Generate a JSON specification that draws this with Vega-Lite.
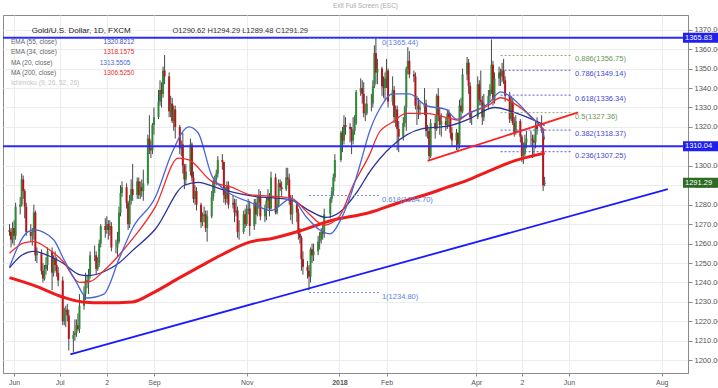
{
"$schema": "https://vega.github.io/schema/vega-lite/v6.json",
"width": 685, "height": 358,
"autosize": {"type": "none"},
"padding": {"left": 3, "top": 15, "right": 30, "bottom": 15},
"background": "white",
"title": {"text": "Exit Full Screen (ESC)", "fontSize": 6.5, "color": "#aaaaaa", "fontWeight": "normal", "anchor": "middle", "dx": 20, "offset": 0, "baseline": "bottom", "font": "Liberation Sans"},
"config": {"view": {"stroke": "#8a8a8a", "strokeWidth": 1}, "font": "Liberation Sans",
 "axis": {"zindex": 0, "grid": true, "gridColor": "#ececec", "domainColor": "#8a8a8a", "tickColor": "#8a8a8a", "labelColor": "#555555", "labelFont": "Liberation Sans", "labelPadding": 2, "labelOverlap": false},
 "axisX": {"tickSize": 3, "labelFontSize": 7, "labelFlush": false},
 "axisY": {"tickSize": 4, "labelFontSize": 7.5}},
"datasets": {
"ohlc": [
{"d":"2017-05-29","o":1267,"h":1270,"l":1264,"c":1266},
{"d":"2017-05-30","o":1266,"h":1268,"l":1258,"c":1262},
{"d":"2017-05-31","o":1262,"h":1271,"l":1260,"c":1268},
{"d":"2017-06-01","o":1268,"h":1272,"l":1259,"c":1264},
{"d":"2017-06-02","o":1264,"h":1281,"l":1262,"c":1279},
{"d":"2017-06-05","o":1279,"h":1284,"l":1275,"c":1280},
{"d":"2017-06-06","o":1280,"h":1296,"l":1279,"c":1293},
{"d":"2017-06-07","o":1293,"h":1295,"l":1283,"c":1287},
{"d":"2017-06-08","o":1287,"h":1288,"l":1273,"c":1279},
{"d":"2017-06-09","o":1279,"h":1281,"l":1264,"c":1266},
{"d":"2017-06-12","o":1266,"h":1270,"l":1261,"c":1264},
{"d":"2017-06-13","o":1264,"h":1268,"l":1259,"c":1266},
{"d":"2017-06-14","o":1266,"h":1280,"l":1262,"c":1276},
{"d":"2017-06-15","o":1276,"h":1277,"l":1251,"c":1254},
{"d":"2017-06-16","o":1254,"h":1258,"l":1250,"c":1255},
{"d":"2017-06-19","o":1255,"h":1257,"l":1244,"c":1246},
{"d":"2017-06-20","o":1246,"h":1250,"l":1240,"c":1242},
{"d":"2017-06-21","o":1242,"h":1249,"l":1241,"c":1247},
{"d":"2017-06-22","o":1247,"h":1253,"l":1244,"c":1249},
{"d":"2017-06-23","o":1249,"h":1258,"l":1246,"c":1256},
{"d":"2017-06-26","o":1256,"h":1258,"l":1236,"c":1245},
{"d":"2017-06-27","o":1245,"h":1254,"l":1243,"c":1252},
{"d":"2017-06-28","o":1252,"h":1256,"l":1246,"c":1249},
{"d":"2017-06-29","o":1249,"h":1253,"l":1243,"c":1245},
{"d":"2017-06-30","o":1245,"h":1248,"l":1238,"c":1241},
{"d":"2017-07-03","o":1241,"h":1243,"l":1218,"c":1220},
{"d":"2017-07-04","o":1220,"h":1227,"l":1218,"c":1225},
{"d":"2017-07-05","o":1225,"h":1228,"l":1217,"c":1226},
{"d":"2017-07-06","o":1226,"h":1229,"l":1220,"c":1223},
{"d":"2017-07-07","o":1223,"h":1226,"l":1205,"c":1211},
{"d":"2017-07-10","o":1211,"h":1215,"l":1204,"c":1213},
{"d":"2017-07-11","o":1213,"h":1221,"l":1210,"c":1214},
{"d":"2017-07-12","o":1214,"h":1221,"l":1212,"c":1218},
{"d":"2017-07-13","o":1218,"h":1224,"l":1215,"c":1216},
{"d":"2017-07-14","o":1216,"h":1234,"l":1214,"c":1228},
{"d":"2017-07-17","o":1228,"h":1238,"l":1226,"c":1234},
{"d":"2017-07-18","o":1234,"h":1245,"l":1231,"c":1241},
{"d":"2017-07-19","o":1241,"h":1244,"l":1237,"c":1240},
{"d":"2017-07-20","o":1240,"h":1247,"l":1234,"c":1244},
{"d":"2017-07-21","o":1244,"h":1256,"l":1242,"c":1254},
{"d":"2017-07-24","o":1254,"h":1259,"l":1251,"c":1254},
{"d":"2017-07-25","o":1254,"h":1256,"l":1244,"c":1247},
{"d":"2017-07-26","o":1247,"h":1253,"l":1246,"c":1250},
{"d":"2017-07-27","o":1250,"h":1262,"l":1248,"c":1260},
{"d":"2017-07-28","o":1260,"h":1270,"l":1258,"c":1269},
{"d":"2017-07-31","o":1269,"h":1273,"l":1263,"c":1267},
{"d":"2017-08-01","o":1267,"h":1274,"l":1265,"c":1270},
{"d":"2017-08-02","o":1270,"h":1272,"l":1262,"c":1267},
{"d":"2017-08-03","o":1267,"h":1272,"l":1264,"c":1269},
{"d":"2017-08-04","o":1269,"h":1271,"l":1256,"c":1258},
{"d":"2017-08-07","o":1258,"h":1262,"l":1255,"c":1258},
{"d":"2017-08-08","o":1258,"h":1266,"l":1253,"c":1261},
{"d":"2017-08-09","o":1261,"h":1279,"l":1260,"c":1276},
{"d":"2017-08-10","o":1276,"h":1290,"l":1274,"c":1286},
{"d":"2017-08-11","o":1286,"h":1292,"l":1284,"c":1289},
{"d":"2017-08-14","o":1289,"h":1291,"l":1278,"c":1281},
{"d":"2017-08-15","o":1281,"h":1282,"l":1267,"c":1270},
{"d":"2017-08-16","o":1270,"h":1285,"l":1268,"c":1282},
{"d":"2017-08-17","o":1282,"h":1293,"l":1280,"c":1288},
{"d":"2017-08-18","o":1288,"h":1301,"l":1282,"c":1285},
{"d":"2017-08-21","o":1285,"h":1294,"l":1283,"c":1292},
{"d":"2017-08-22","o":1292,"h":1294,"l":1283,"c":1285},
{"d":"2017-08-23","o":1285,"h":1292,"l":1283,"c":1289},
{"d":"2017-08-24","o":1289,"h":1293,"l":1284,"c":1287},
{"d":"2017-08-25","o":1287,"h":1298,"l":1282,"c":1291},
{"d":"2017-08-28","o":1291,"h":1316,"l":1290,"c":1314},
{"d":"2017-08-29","o":1314,"h":1326,"l":1306,"c":1309},
{"d":"2017-08-30","o":1309,"h":1313,"l":1304,"c":1308},
{"d":"2017-08-31","o":1308,"h":1322,"l":1306,"c":1321},
{"d":"2017-09-01","o":1321,"h":1330,"l":1316,"c":1325},
{"d":"2017-09-04","o":1325,"h":1339,"l":1324,"c":1333},
{"d":"2017-09-05","o":1333,"h":1344,"l":1331,"c":1339},
{"d":"2017-09-06","o":1339,"h":1343,"l":1330,"c":1337},
{"d":"2017-09-07","o":1337,"h":1351,"l":1335,"c":1349},
{"d":"2017-09-08","o":1349,"h":1357,"l":1342,"c":1346},
{"d":"2017-09-11","o":1346,"h":1348,"l":1325,"c":1328},
{"d":"2017-09-12","o":1328,"h":1336,"l":1325,"c":1332},
{"d":"2017-09-13","o":1332,"h":1335,"l":1322,"c":1323},
{"d":"2017-09-14","o":1323,"h":1331,"l":1318,"c":1329},
{"d":"2017-09-15","o":1329,"h":1331,"l":1314,"c":1320},
{"d":"2017-09-18","o":1320,"h":1321,"l":1306,"c":1309},
{"d":"2017-09-19","o":1309,"h":1313,"l":1305,"c":1311},
{"d":"2017-09-20","o":1311,"h":1317,"l":1296,"c":1300},
{"d":"2017-09-21","o":1300,"h":1301,"l":1288,"c":1293},
{"d":"2017-09-22","o":1293,"h":1301,"l":1290,"c":1297},
{"d":"2017-09-25","o":1297,"h":1314,"l":1295,"c":1311},
{"d":"2017-09-26","o":1311,"h":1312,"l":1292,"c":1294},
{"d":"2017-09-27","o":1294,"h":1297,"l":1281,"c":1283},
{"d":"2017-09-28","o":1283,"h":1290,"l":1280,"c":1287},
{"d":"2017-09-29","o":1287,"h":1289,"l":1277,"c":1280},
{"d":"2017-10-02","o":1280,"h":1281,"l":1268,"c":1271},
{"d":"2017-10-03","o":1271,"h":1276,"l":1269,"c":1274},
{"d":"2017-10-04","o":1274,"h":1279,"l":1271,"c":1275},
{"d":"2017-10-05","o":1275,"h":1277,"l":1266,"c":1268},
{"d":"2017-10-06","o":1268,"h":1277,"l":1261,"c":1274},
{"d":"2017-10-09","o":1274,"h":1287,"l":1273,"c":1284},
{"d":"2017-10-10","o":1284,"h":1293,"l":1282,"c":1292},
{"d":"2017-10-11","o":1292,"h":1295,"l":1286,"c":1293},
{"d":"2017-10-12","o":1293,"h":1298,"l":1290,"c":1296},
{"d":"2017-10-13","o":1296,"h":1305,"l":1294,"c":1303},
{"d":"2017-10-16","o":1303,"h":1306,"l":1298,"c":1302},
{"d":"2017-10-17","o":1302,"h":1302,"l":1281,"c":1285},
{"d":"2017-10-18","o":1285,"h":1289,"l":1280,"c":1283},
{"d":"2017-10-19","o":1283,"h":1292,"l":1281,"c":1290},
{"d":"2017-10-20","o":1290,"h":1292,"l":1278,"c":1280},
{"d":"2017-10-23","o":1280,"h":1285,"l":1278,"c":1281},
{"d":"2017-10-24","o":1281,"h":1283,"l":1271,"c":1276},
{"d":"2017-10-25","o":1276,"h":1283,"l":1274,"c":1277},
{"d":"2017-10-26","o":1277,"h":1279,"l":1263,"c":1266},
{"d":"2017-10-27","o":1266,"h":1272,"l":1262,"c":1266},
{"d":"2017-10-30","o":1266,"h":1277,"l":1265,"c":1275},
{"d":"2017-10-31","o":1275,"h":1278,"l":1268,"c":1270},
{"d":"2017-11-01","o":1270,"h":1280,"l":1269,"c":1277},
{"d":"2017-11-02","o":1277,"h":1283,"l":1275,"c":1278},
{"d":"2017-11-03","o":1278,"h":1282,"l":1264,"c":1269},
{"d":"2017-11-06","o":1269,"h":1283,"l":1267,"c":1281},
{"d":"2017-11-07","o":1281,"h":1283,"l":1270,"c":1275},
{"d":"2017-11-08","o":1275,"h":1284,"l":1274,"c":1281},
{"d":"2017-11-09","o":1281,"h":1288,"l":1278,"c":1284},
{"d":"2017-11-10","o":1284,"h":1287,"l":1272,"c":1274},
{"d":"2017-11-13","o":1274,"h":1280,"l":1271,"c":1278},
{"d":"2017-11-14","o":1278,"h":1284,"l":1272,"c":1282},
{"d":"2017-11-15","o":1282,"h":1288,"l":1278,"c":1284},
{"d":"2017-11-16","o":1284,"h":1286,"l":1274,"c":1278},
{"d":"2017-11-17","o":1278,"h":1297,"l":1277,"c":1294},
{"d":"2017-11-20","o":1294,"h":1296,"l":1275,"c":1276},
{"d":"2017-11-21","o":1276,"h":1283,"l":1275,"c":1280},
{"d":"2017-11-22","o":1280,"h":1293,"l":1279,"c":1291},
{"d":"2017-11-23","o":1291,"h":1293,"l":1287,"c":1289},
{"d":"2017-11-24","o":1289,"h":1292,"l":1284,"c":1288},
{"d":"2017-11-27","o":1288,"h":1299,"l":1287,"c":1294},
{"d":"2017-11-28","o":1294,"h":1299,"l":1290,"c":1293},
{"d":"2017-11-29","o":1293,"h":1296,"l":1280,"c":1282},
{"d":"2017-11-30","o":1282,"h":1285,"l":1272,"c":1275},
{"d":"2017-12-01","o":1275,"h":1285,"l":1270,"c":1280},
{"d":"2017-12-04","o":1280,"h":1281,"l":1271,"c":1276},
{"d":"2017-12-05","o":1276,"h":1278,"l":1262,"c":1265},
{"d":"2017-12-06","o":1265,"h":1268,"l":1260,"c":1263},
{"d":"2017-12-07","o":1263,"h":1264,"l":1246,"c":1252},
{"d":"2017-12-08","o":1252,"h":1256,"l":1244,"c":1248},
{"d":"2017-12-11","o":1248,"h":1251,"l":1242,"c":1246},
{"d":"2017-12-12","o":1246,"h":1249,"l":1236,"c":1243},
{"d":"2017-12-13","o":1243,"h":1258,"l":1240,"c":1257},
{"d":"2017-12-14","o":1257,"h":1260,"l":1250,"c":1254},
{"d":"2017-12-15","o":1254,"h":1260,"l":1251,"c":1256},
{"d":"2017-12-18","o":1256,"h":1264,"l":1254,"c":1261},
{"d":"2017-12-19","o":1261,"h":1266,"l":1257,"c":1262},
{"d":"2017-12-20","o":1262,"h":1268,"l":1260,"c":1266},
{"d":"2017-12-21","o":1266,"h":1270,"l":1262,"c":1265},
{"d":"2017-12-22","o":1265,"h":1278,"l":1263,"c":1275},
{"d":"2017-12-26","o":1275,"h":1284,"l":1273,"c":1283},
{"d":"2017-12-27","o":1283,"h":1289,"l":1281,"c":1287},
{"d":"2017-12-28","o":1287,"h":1296,"l":1285,"c":1294},
{"d":"2017-12-29","o":1294,"h":1306,"l":1292,"c":1303},
{"d":"2018-01-02","o":1303,"h":1318,"l":1302,"c":1317},
{"d":"2018-01-03","o":1317,"h":1320,"l":1307,"c":1313},
{"d":"2018-01-04","o":1313,"h":1326,"l":1311,"c":1321},
{"d":"2018-01-05","o":1321,"h":1325,"l":1316,"c":1320},
{"d":"2018-01-08","o":1320,"h":1322,"l":1312,"c":1319},
{"d":"2018-01-09","o":1319,"h":1320,"l":1306,"c":1313},
{"d":"2018-01-10","o":1313,"h":1325,"l":1311,"c":1318},
{"d":"2018-01-11","o":1318,"h":1326,"l":1316,"c":1322},
{"d":"2018-01-12","o":1322,"h":1339,"l":1321,"c":1338},
{"d":"2018-01-15","o":1338,"h":1345,"l":1336,"c":1340},
{"d":"2018-01-16","o":1340,"h":1344,"l":1332,"c":1337},
{"d":"2018-01-17","o":1337,"h":1343,"l":1325,"c":1327},
{"d":"2018-01-18","o":1327,"h":1332,"l":1323,"c":1327},
{"d":"2018-01-19","o":1327,"h":1336,"l":1326,"c":1332},
{"d":"2018-01-22","o":1332,"h":1337,"l":1328,"c":1332},
{"d":"2018-01-23","o":1332,"h":1344,"l":1330,"c":1341},
{"d":"2018-01-24","o":1341,"h":1362,"l":1340,"c":1358},
{"d":"2018-01-25","o":1358,"h":1366,"l":1342,"c":1348},
{"d":"2018-01-26","o":1348,"h":1355,"l":1342,"c":1350},
{"d":"2018-01-29","o":1350,"h":1351,"l":1336,"c":1341},
{"d":"2018-01-30","o":1341,"h":1346,"l":1335,"c":1340},
{"d":"2018-01-31","o":1340,"h":1348,"l":1334,"c":1345},
{"d":"2018-02-01","o":1345,"h":1355,"l":1340,"c":1349},
{"d":"2018-02-02","o":1349,"h":1350,"l":1330,"c":1333},
{"d":"2018-02-05","o":1333,"h":1346,"l":1331,"c":1339},
{"d":"2018-02-06","o":1339,"h":1341,"l":1322,"c":1325},
{"d":"2018-02-07","o":1325,"h":1331,"l":1320,"c":1329},
{"d":"2018-02-08","o":1329,"h":1331,"l":1308,"c":1319},
{"d":"2018-02-09","o":1319,"h":1323,"l":1307,"c":1315},
{"d":"2018-02-12","o":1315,"h":1325,"l":1313,"c":1322},
{"d":"2018-02-13","o":1322,"h":1331,"l":1320,"c":1330},
{"d":"2018-02-14","o":1330,"h":1351,"l":1318,"c":1350},
{"d":"2018-02-15","o":1350,"h":1361,"l":1347,"c":1354},
{"d":"2018-02-16","o":1354,"h":1359,"l":1345,"c":1347},
{"d":"2018-02-19","o":1347,"h":1349,"l":1343,"c":1346},
{"d":"2018-02-20","o":1346,"h":1348,"l":1329,"c":1331},
{"d":"2018-02-21","o":1331,"h":1336,"l":1321,"c":1331},
{"d":"2018-02-22","o":1331,"h":1335,"l":1324,"c":1329},
{"d":"2018-02-23","o":1329,"h":1333,"l":1326,"c":1330},
{"d":"2018-02-26","o":1330,"h":1340,"l":1326,"c":1332},
{"d":"2018-02-27","o":1332,"h":1334,"l":1315,"c":1318},
{"d":"2018-02-28","o":1318,"h":1321,"l":1314,"c":1318},
{"d":"2018-03-01","o":1318,"h":1320,"l":1303,"c":1305},
{"d":"2018-03-02","o":1305,"h":1324,"l":1304,"c":1322},
{"d":"2018-03-05","o":1322,"h":1326,"l":1314,"c":1319},
{"d":"2018-03-06","o":1319,"h":1337,"l":1318,"c":1336},
{"d":"2018-03-07","o":1336,"h":1340,"l":1323,"c":1326},
{"d":"2018-03-08","o":1326,"h":1330,"l":1316,"c":1321},
{"d":"2018-03-09","o":1321,"h":1327,"l":1315,"c":1323},
{"d":"2018-03-12","o":1323,"h":1325,"l":1318,"c":1321},
{"d":"2018-03-13","o":1321,"h":1329,"l":1319,"c":1327},
{"d":"2018-03-14","o":1327,"h":1329,"l":1320,"c":1325},
{"d":"2018-03-15","o":1325,"h":1327,"l":1314,"c":1317},
{"d":"2018-03-16","o":1317,"h":1320,"l":1310,"c":1313},
{"d":"2018-03-19","o":1313,"h":1319,"l":1308,"c":1317},
{"d":"2018-03-20","o":1317,"h":1317,"l":1307,"c":1311},
{"d":"2018-03-21","o":1311,"h":1334,"l":1309,"c":1331},
{"d":"2018-03-22","o":1331,"h":1335,"l":1324,"c":1328},
{"d":"2018-03-23","o":1328,"h":1350,"l":1327,"c":1347},
{"d":"2018-03-26","o":1347,"h":1356,"l":1344,"c":1353},
{"d":"2018-03-27","o":1353,"h":1355,"l":1337,"c":1341},
{"d":"2018-03-28","o":1341,"h":1343,"l":1322,"c":1325},
{"d":"2018-03-29","o":1325,"h":1328,"l":1321,"c":1325},
{"d":"2018-04-02","o":1325,"h":1346,"l":1324,"c":1342},
{"d":"2018-04-03","o":1342,"h":1344,"l":1331,"c":1334},
{"d":"2018-04-04","o":1334,"h":1349,"l":1331,"c":1333},
{"d":"2018-04-05","o":1333,"h":1336,"l":1321,"c":1325},
{"d":"2018-04-06","o":1325,"h":1337,"l":1323,"c":1332},
{"d":"2018-04-09","o":1332,"h":1339,"l":1329,"c":1336},
{"d":"2018-04-10","o":1336,"h":1342,"l":1333,"c":1339},
{"d":"2018-04-11","o":1339,"h":1365,"l":1337,"c":1352},
{"d":"2018-04-12","o":1352,"h":1354,"l":1331,"c":1334},
{"d":"2018-04-13","o":1334,"h":1348,"l":1332,"c":1345},
{"d":"2018-04-16","o":1345,"h":1351,"l":1341,"c":1348},
{"d":"2018-04-17","o":1348,"h":1350,"l":1341,"c":1346},
{"d":"2018-04-18","o":1346,"h":1353,"l":1343,"c":1349},
{"d":"2018-04-19","o":1349,"h":1355,"l":1342,"c":1344},
{"d":"2018-04-20","o":1344,"h":1346,"l":1333,"c":1336},
{"d":"2018-04-23","o":1336,"h":1338,"l":1322,"c":1324},
{"d":"2018-04-24","o":1324,"h":1336,"l":1323,"c":1333},
{"d":"2018-04-25","o":1333,"h":1335,"l":1321,"c":1322},
{"d":"2018-04-26","o":1322,"h":1325,"l":1315,"c":1317},
{"d":"2018-04-27","o":1317,"h":1326,"l":1316,"c":1323},
{"d":"2018-04-30","o":1323,"h":1324,"l":1312,"c":1315},
{"d":"2018-05-01","o":1315,"h":1316,"l":1302,"c":1305},
{"d":"2018-05-02","o":1305,"h":1312,"l":1301,"c":1306},
{"d":"2018-05-03","o":1306,"h":1316,"l":1305,"c":1312},
{"d":"2018-05-04","o":1312,"h":1318,"l":1309,"c":1314},
{"d":"2018-05-07","o":1314,"h":1318,"l":1310,"c":1314},
{"d":"2018-05-08","o":1314,"h":1316,"l":1304,"c":1313},
{"d":"2018-05-09","o":1313,"h":1316,"l":1305,"c":1312},
{"d":"2018-05-10","o":1312,"h":1323,"l":1309,"c":1321},
{"d":"2018-05-11","o":1321,"h":1325,"l":1316,"c":1319},
{"d":"2018-05-14","o":1319,"h":1326,"l":1317,"c":1318},
{"d":"2018-05-15","o":1318,"h":1319,"l":1287,"c":1290},
{"d":"2018-05-16","o":1290.62,"h":1294.29,"l":1289.48,"c":1291.29}
],
"ma": [
{"s":"MA200","d":"2017-05-29","v":1242.5},{"s":"MA200","d":"2017-06-14","v":1238.5},{"s":"MA200","d":"2017-07-03","v":1232.5},{"s":"MA200","d":"2017-07-16","v":1230},{"s":"MA200","d":"2017-07-30","v":1229.5},{"s":"MA200","d":"2017-08-18","v":1230},{"s":"MA200","d":"2017-08-31","v":1234.5},{"s":"MA200","d":"2017-09-18","v":1242.5},{"s":"MA200","d":"2017-10-02","v":1248.5},{"s":"MA200","d":"2017-10-15","v":1254},{"s":"MA200","d":"2017-11-04","v":1261},{"s":"MA200","d":"2017-11-17","v":1262.5},{"s":"MA200","d":"2017-12-06","v":1266.5},{"s":"MA200","d":"2017-12-25","v":1271.5},{"s":"MA200","d":"2018-01-21","v":1276},{"s":"MA200","d":"2018-02-09","v":1281},{"s":"MA200","d":"2018-02-28","v":1285.5},{"s":"MA200","d":"2018-03-13","v":1289},{"s":"MA200","d":"2018-03-26","v":1292.5},{"s":"MA200","d":"2018-04-10","v":1297.5},{"s":"MA200","d":"2018-04-26","v":1302.5},{"s":"MA200","d":"2018-05-16","v":1306.53},
{"s":"EMA55","d":"2017-05-29","v":1247.5},{"s":"EMA55","d":"2017-06-06","v":1254},{"s":"EMA55","d":"2017-06-14","v":1256},{"s":"EMA55","d":"2017-06-23","v":1254},{"s":"EMA55","d":"2017-07-03","v":1250},{"s":"EMA55","d":"2017-07-14","v":1244},{"s":"EMA55","d":"2017-07-19","v":1243.5},{"s":"EMA55","d":"2017-07-30","v":1245.5},{"s":"EMA55","d":"2017-08-09","v":1250},{"s":"EMA55","d":"2017-08-18","v":1256.5},{"s":"EMA55","d":"2017-09-02","v":1267.5},{"s":"EMA55","d":"2017-09-21","v":1290},{"s":"EMA55","d":"2017-09-30","v":1291.5},{"s":"EMA55","d":"2017-10-15","v":1288},{"s":"EMA55","d":"2017-11-04","v":1284.5},{"s":"EMA55","d":"2017-11-30","v":1282.5},{"s":"EMA55","d":"2017-12-11","v":1277.5},{"s":"EMA55","d":"2017-12-23","v":1273.5},{"s":"EMA55","d":"2018-01-01","v":1276},{"s":"EMA55","d":"2018-01-13","v":1287},{"s":"EMA55","d":"2018-01-21","v":1297},{"s":"EMA55","d":"2018-02-05","v":1310.5},{"s":"EMA55","d":"2018-02-24","v":1319},{"s":"EMA55","d":"2018-03-14","v":1320.5},{"s":"EMA55","d":"2018-03-27","v":1324},{"s":"EMA55","d":"2018-04-13","v":1330},{"s":"EMA55","d":"2018-04-26","v":1327.5},{"s":"EMA55","d":"2018-05-09","v":1323.5},{"s":"EMA55","d":"2018-05-16","v":1320.82},
{"s":"EMA34","d":"2017-05-29","v":1255},{"s":"EMA34","d":"2017-06-08","v":1260.5},{"s":"EMA34","d":"2017-06-14","v":1261},{"s":"EMA34","d":"2017-06-23","v":1257.5},{"s":"EMA34","d":"2017-07-03","v":1251},{"s":"EMA34","d":"2017-07-14","v":1240},{"s":"EMA34","d":"2017-07-21","v":1240.5},{"s":"EMA34","d":"2017-07-30","v":1246},{"s":"EMA34","d":"2017-08-09","v":1254},{"s":"EMA34","d":"2017-08-18","v":1262.5},{"s":"EMA34","d":"2017-09-02","v":1279},{"s":"EMA34","d":"2017-09-17","v":1304},{"s":"EMA34","d":"2017-09-24","v":1303},{"s":"EMA34","d":"2017-10-09","v":1292},{"s":"EMA34","d":"2017-10-22","v":1289},{"s":"EMA34","d":"2017-11-04","v":1285},{"s":"EMA34","d":"2017-11-15","v":1284.5},{"s":"EMA34","d":"2017-11-30","v":1283.5},{"s":"EMA34","d":"2017-12-11","v":1276},{"s":"EMA34","d":"2017-12-22","v":1269.5},{"s":"EMA34","d":"2018-01-01","v":1274},{"s":"EMA34","d":"2018-01-10","v":1290},{"s":"EMA34","d":"2018-01-21","v":1306},{"s":"EMA34","d":"2018-01-27","v":1317},{"s":"EMA34","d":"2018-02-05","v":1322.5},{"s":"EMA34","d":"2018-02-14","v":1327},{"s":"EMA34","d":"2018-02-27","v":1327},{"s":"EMA34","d":"2018-03-14","v":1324.5},{"s":"EMA34","d":"2018-03-20","v":1323.5},{"s":"EMA34","d":"2018-03-27","v":1327},{"s":"EMA34","d":"2018-04-09","v":1331},{"s":"EMA34","d":"2018-04-17","v":1335},{"s":"EMA34","d":"2018-04-26","v":1332},{"s":"EMA34","d":"2018-05-09","v":1324},{"s":"EMA34","d":"2018-05-16","v":1318.16},
{"s":"MA20","d":"2017-05-29","v":1248},{"s":"MA20","d":"2017-06-10","v":1266},{"s":"MA20","d":"2017-06-14","v":1267},{"s":"MA20","d":"2017-06-27","v":1262},{"s":"MA20","d":"2017-07-03","v":1253},{"s":"MA20","d":"2017-07-12","v":1240},{"s":"MA20","d":"2017-07-19","v":1232},{"s":"MA20","d":"2017-07-30","v":1234},{"s":"MA20","d":"2017-08-09","v":1252},{"s":"MA20","d":"2017-08-18","v":1268},{"s":"MA20","d":"2017-09-02","v":1284},{"s":"MA20","d":"2017-09-13","v":1307},{"s":"MA20","d":"2017-09-24","v":1320},{"s":"MA20","d":"2017-09-30","v":1317},{"s":"MA20","d":"2017-10-09","v":1295},{"s":"MA20","d":"2017-10-17","v":1288},{"s":"MA20","d":"2017-11-04","v":1281},{"s":"MA20","d":"2017-11-17","v":1277},{"s":"MA20","d":"2017-11-30","v":1283},{"s":"MA20","d":"2017-12-11","v":1273},{"s":"MA20","d":"2017-12-19","v":1267},{"s":"MA20","d":"2017-12-26","v":1265},{"s":"MA20","d":"2018-01-01","v":1271},{"s":"MA20","d":"2018-01-08","v":1284},{"s":"MA20","d":"2018-01-14","v":1299},{"s":"MA20","d":"2018-01-21","v":1318},{"s":"MA20","d":"2018-01-28","v":1330},{"s":"MA20","d":"2018-02-05","v":1337},{"s":"MA20","d":"2018-02-16","v":1337},{"s":"MA20","d":"2018-02-27","v":1331},{"s":"MA20","d":"2018-03-12","v":1329},{"s":"MA20","d":"2018-03-19","v":1324},{"s":"MA20","d":"2018-03-27","v":1327},{"s":"MA20","d":"2018-04-09","v":1332},{"s":"MA20","d":"2018-04-17","v":1338},{"s":"MA20","d":"2018-04-26","v":1334},{"s":"MA20","d":"2018-05-07","v":1325},{"s":"MA20","d":"2018-05-14","v":1319},{"s":"MA20","d":"2018-05-16","v":1313.55}
],
"trend": [
{"n":"support","d1":"2017-07-08","p1":1203,"d2":"2018-08-05","p2":1288},
{"n":"resistance","d1":"2018-02-28","p1":1302.5,"d2":"2018-06-07","p2":1327.5}
],
"hlines": [{"p":1365.83},{"p":1310.04}],
"fib": [
{"g":1,"r":"0","p":1365.44,"d1":"2017-12-12","d2":"2018-01-27","t":"0(1365.44)"},
{"g":1,"r":"0.618","p":1284.70,"d1":"2017-12-12","d2":"2018-01-27","t":"0.618(1284.70)"},
{"g":1,"r":"1","p":1234.80,"d1":"2017-12-12","d2":"2018-01-27","t":"1(1234.80)"},
{"g":2,"r":"0.886","p":1356.75,"d1":"2018-04-17","d2":"2018-06-03","t":"0.886(1356.75)"},
{"g":2,"r":"0.786","p":1349.14,"d1":"2018-04-17","d2":"2018-06-03","t":"0.786(1349.14)"},
{"g":2,"r":"0.618","p":1336.34,"d1":"2018-04-17","d2":"2018-06-03","t":"0.618(1336.34)"},
{"g":2,"r":"0.5","p":1327.36,"d1":"2018-04-17","d2":"2018-06-03","t":"0.5(1327.36)"},
{"g":2,"r":"0.382","p":1318.37,"d1":"2018-04-17","d2":"2018-06-03","t":"0.382(1318.37)"},
{"g":2,"r":"0.236","p":1307.25,"d1":"2018-04-17","d2":"2018-06-03","t":"0.236(1307.25)"}
],
"tags": [
{"p":1365.83,"t":"1365.83","k":"line"},
{"p":1310.04,"t":"1310.04","k":"line"},
{"p":1291.29,"t":"1291.29","k":"last"}
]
},
"layer": [
{"data":{"name":"ohlc"},"mark":{"type":"rule","color":"#474747","strokeWidth":1},
 "encoding":{
  "x":{"field":"d","type":"temporal","scale":{"type":"utc","domain":[{"year":2017,"month":5,"date":28,"utc":true},{"year":2018,"month":8,"date":15,"utc":true}]},
   "axis":{"title":null,
    "values":[{"year":2017,"month":6,"date":1,"utc":true},{"year":2017,"month":7,"date":1,"utc":true},{"year":2017,"month":8,"date":1,"utc":true},{"year":2017,"month":9,"date":1,"utc":true},{"year":2017,"month":11,"date":1,"utc":true},{"year":2018,"month":1,"date":1,"utc":true},{"year":2018,"month":2,"date":1,"utc":true},{"year":2018,"month":4,"date":1,"utc":true},{"year":2018,"month":5,"date":1,"utc":true},{"year":2018,"month":6,"date":1,"utc":true},{"year":2018,"month":8,"date":1,"utc":true}],
    "labelExpr":"utcmonth(datum.value)==0 ? '2018' : ((utcmonth(datum.value)==7 && utcyear(datum.value)==2017) || utcmonth(datum.value)==4) ? '2' : utcFormat(datum.value, '%b')",
    "labelFontWeight":{"condition":{"test":"utcmonth(datum.value)==0","value":"bold"},"value":"normal"}}},
  "y":{"field":"l","type":"quantitative","scale":{"domain":[1196,1375],"nice":false,"zero":false},
   "axis":{"orient":"right","title":null,"format":".2f","tickCount":18,
    "values":[1200,1210,1220,1230,1240,1250,1260,1270,1280,1290,1300,1310,1320,1330,1340,1350,1360,1370]}},
  "y2":{"field":"h"}}},
{"data":{"name":"ohlc"},"mark":{"type":"bar","size":2},
 "encoding":{
  "x":{"field":"d","type":"temporal"},
  "y":{"field":"o","type":"quantitative","axis":{"orient":"right"}},
  "y2":{"field":"c"},
  "color":{"condition":{"test":"datum.c >= datum.o","value":"#2e8b3a"},"value":"#b5161b"}}},
{"data":{"name":"ma"},"transform":[{"filter":"datum.s == 'MA200'"}],"mark":{"type":"line","interpolate":"monotone","color":"#f01a1a","strokeWidth":3},
 "encoding":{"x":{"field":"d","type":"temporal"},"y":{"field":"v","type":"quantitative","axis":{"orient":"right"}}}},
{"data":{"name":"ma"},"transform":[{"filter":"datum.s != 'MA200'"}],"mark":{"type":"line","interpolate":"monotone","strokeWidth":1.3},
 "encoding":{"x":{"field":"d","type":"temporal"},"y":{"field":"v","type":"quantitative","axis":{"orient":"right"}},
  "color":{"field":"s","type":"nominal","scale":{"domain":["EMA55","EMA34","MA20"],"range":["#2a3199","#f22a2a","#4766d8"]},"legend":null}}},
{"data":{"name":"hlines"},"mark":{"type":"rule","color":"#2b2bff","strokeWidth":2},
 "encoding":{"y":{"field":"p","type":"quantitative","axis":{"orient":"right"}}}},
{"data":{"name":"trend"},"mark":{"type":"rule","strokeWidth":1.8},
 "encoding":{"x":{"field":"d1","type":"temporal"},"x2":{"field":"d2"},"y":{"field":"p1","type":"quantitative","axis":{"orient":"right"}},"y2":{"field":"p2"},
  "color":{"field":"n","type":"nominal","scale":{"domain":["support","resistance"],"range":["#1a1aff","#ff2020"]},"legend":null}}},
{"data":{"name":"fib"},"mark":{"type":"rule","strokeWidth":1,"strokeDash":[2,2]},
 "encoding":{"x":{"field":"d1","type":"temporal"},"x2":{"field":"d2"},"y":{"field":"p","type":"quantitative","axis":{"orient":"right"}},
  "color":{"condition":[{"test":"datum.g == 1","value":"#6f8fe8"},{"test":"datum.r == '0.886' || datum.r == '0.5'","value":"#8aab7e"}],"value":"#5a5ae0"}}},
{"data":{"name":"fib"},"mark":{"type":"text","align":"left","baseline":"middle","dx":3,"dy":4,"fontSize":7.5,"font":"Liberation Sans"},
 "encoding":{"x":{"field":"d2","type":"temporal"},"y":{"field":"p","type":"quantitative","axis":{"orient":"right"}},"text":{"field":"t"},
  "color":{"condition":[{"test":"datum.g == 1","value":"#5a82e0"},{"test":"datum.r == '0.886' || datum.r == '0.5'","value":"#6a9558"}],"value":"#4646d8"}}},
{"data":{"name":"tags"},"mark":{"type":"bar","size":10},
 "encoding":{"x":{"datum":{"year":2018,"month":8,"date":15,"utc":true},"type":"temporal"},"x2":{"datum":{"year":2018,"month":9,"date":12,"utc":true}},"y":{"field":"p","type":"quantitative","axis":{"orient":"right"}},
  "color":{"condition":{"test":"datum.k == 'last'","value":"#2f6b25"},"value":"#1f1ff0"}}},
{"data":{"name":"tags"},"mark":{"type":"text","align":"left","baseline":"middle","dx":2,"fontSize":7.5,"color":"white","font":"Liberation Sans"},
 "encoding":{"x":{"datum":{"year":2018,"month":8,"date":15,"utc":true},"type":"temporal"},"y":{"field":"p","type":"quantitative","axis":{"orient":"right"}},"text":{"field":"t"}}},
{"data":{"values":[{"t":"Gold/U.S. Dollar, 1D, FXCM"}]},"mark":{"type":"text","align":"left","baseline":"middle","fontSize":8,"color":"#222222"},
 "encoding":{"x":{"datum":{"year":2017,"month":6,"date":12,"hours":13,"utc":true},"type":"temporal"},"y":{"datum":1369.5,"type":"quantitative","axis":{"orient":"right"}},"text":{"field":"t"}}},
{"data":{"values":[{"t":"O1290.62  H1294.29  L1289.48  C1291.29"}]},"mark":{"type":"text","align":"left","baseline":"middle","fontSize":7.5,"color":"#333333"},
 "encoding":{"x":{"datum":{"year":2017,"month":9,"date":13,"hours":5,"utc":true},"type":"temporal"},"y":{"datum":1369.5,"type":"quantitative","axis":{"orient":"right"}},"text":{"field":"t"}}},
{"data":{"values":[{"t":"EMA (55, close)"}]},"mark":{"type":"text","align":"left","baseline":"middle","fontSize":6.5,"color":"#666666"},
 "encoding":{"x":{"datum":{"year":2017,"month":5,"date":29,"hours":22,"utc":true},"type":"temporal"},"y":{"datum":1363.5,"type":"quantitative","axis":{"orient":"right"}},"text":{"field":"t"}}},
{"data":{"values":[{"t":"1320.8212"}]},"mark":{"type":"text","align":"left","baseline":"middle","fontSize":6.5,"color":"#3d4dbb"},
 "encoding":{"x":{"datum":{"year":2017,"month":7,"date":29,"hours":21,"utc":true},"type":"temporal"},"y":{"datum":1363.5,"type":"quantitative","axis":{"orient":"right"}},"text":{"field":"t"}}},
{"data":{"values":[{"t":"EMA (34, close)"}]},"mark":{"type":"text","align":"left","baseline":"middle","fontSize":6.5,"color":"#666666"},
 "encoding":{"x":{"datum":{"year":2017,"month":5,"date":29,"hours":22,"utc":true},"type":"temporal"},"y":{"datum":1358.5,"type":"quantitative","axis":{"orient":"right"}},"text":{"field":"t"}}},
{"data":{"values":[{"t":"1318.1575"}]},"mark":{"type":"text","align":"left","baseline":"middle","fontSize":6.5,"color":"#ee2a2a"},
 "encoding":{"x":{"datum":{"year":2017,"month":7,"date":29,"hours":21,"utc":true},"type":"temporal"},"y":{"datum":1358.5,"type":"quantitative","axis":{"orient":"right"}},"text":{"field":"t"}}},
{"data":{"values":[{"t":"MA (20, close)"}]},"mark":{"type":"text","align":"left","baseline":"middle","fontSize":6.5,"color":"#666666"},
 "encoding":{"x":{"datum":{"year":2017,"month":5,"date":29,"hours":22,"utc":true},"type":"temporal"},"y":{"datum":1353,"type":"quantitative","axis":{"orient":"right"}},"text":{"field":"t"}}},
{"data":{"values":[{"t":"1313.5505"}]},"mark":{"type":"text","align":"left","baseline":"middle","fontSize":6.5,"color":"#4766d8"},
 "encoding":{"x":{"datum":{"year":2017,"month":7,"date":27,"hours":7,"utc":true},"type":"temporal"},"y":{"datum":1353,"type":"quantitative","axis":{"orient":"right"}},"text":{"field":"t"}}},
{"data":{"values":[{"t":"MA (200, close)"}]},"mark":{"type":"text","align":"left","baseline":"middle","fontSize":6.5,"color":"#666666"},
 "encoding":{"x":{"datum":{"year":2017,"month":5,"date":29,"hours":22,"utc":true},"type":"temporal"},"y":{"datum":1347.5,"type":"quantitative","axis":{"orient":"right"}},"text":{"field":"t"}}},
{"data":{"values":[{"t":"1306.5250"}]},"mark":{"type":"text","align":"left","baseline":"middle","fontSize":6.5,"color":"#ee2a2a"},
 "encoding":{"x":{"datum":{"year":2017,"month":7,"date":29,"hours":21,"utc":true},"type":"temporal"},"y":{"datum":1347.5,"type":"quantitative","axis":{"orient":"right"}},"text":{"field":"t"}}},
{"data":{"values":[{"t":"Ichimoku (9, 26, 52, 26)"}]},"mark":{"type":"text","align":"left","baseline":"middle","fontSize":6.5,"color":"#c4c4c4"},
 "encoding":{"x":{"datum":{"year":2017,"month":5,"date":29,"hours":22,"utc":true},"type":"temporal"},"y":{"datum":1342.5,"type":"quantitative","axis":{"orient":"right"}},"text":{"field":"t"}}}
],
"resolve": {"scale": {"color": "independent"}}
}
